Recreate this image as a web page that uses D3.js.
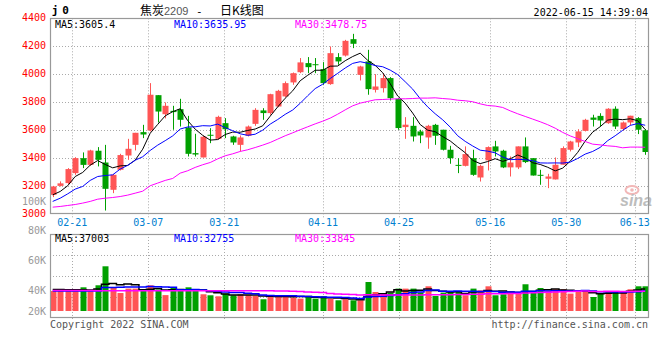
<!DOCTYPE html>
<html><head><meta charset="utf-8">
<script src="https://cdn.jsdelivr.net/npm/d3@7/dist/d3.min.js"></script>
<style>body{margin:0;background:#fff}svg{display:block}</style>
</head><body><svg id="c" width="660" height="360"></svg>
<script>
const dates = ["02-16","02-17","02-18","02-21","02-22","02-23","02-24","02-25","02-28",
"03-01","03-02","03-03","03-04","03-07","03-08","03-09","03-10","03-11","03-14","03-15","03-16","03-17","03-18","03-21","03-22","03-23","03-24","03-25","03-28","03-29","03-30","03-31",
"04-01","04-06","04-07","04-08","04-11","04-12","04-13","04-14","04-15","04-18","04-19","04-20","04-21","04-22","04-25","04-26","04-27","04-28","04-29",
"05-05","05-06","05-09","05-10","05-11","05-12","05-13","05-16","05-17","05-18","05-19","05-20","05-23","05-24","05-25","05-26","05-27","05-30","05-31",
"06-01","06-02","06-06","06-07","06-08","06-09","06-10","06-13","06-14","06-15"];
const opens = [3139,3203,3223,3294,3401,3353,3454,3370,3175,3318,3420,3496,3587,3599,3851,3715,3739,3751,3620,3437,3406,3568,3539,3651,3556,3496,3561,3646,3742,3723,3770,3842,3942,4015,4080,4072,4037,3930,4123,4134,4251,3996,4092,3889,3901,3973,3825,3623,3632,3592,3549,3639,3604,3461,3353,3346,3401,3263,3385,3485,3454,3335,3335,3485,3401,3282,3254,3249,3354,3461,3513,3596,3691,3703,3651,3754,3609,3656,3687,3600];
const highs = [3203,3235,3330,3408,3442,3461,3480,3496,3287,3432,3539,3582,3639,3937,3851,3799,3775,3825,3703,3575,3561,3615,3704,3687,3561,3563,3634,3758,3758,3861,3889,3949,4013,4116,4123,4116,4087,4199,4151,4246,4289,4061,4175,4001,4008,3980,3830,3694,3694,3604,3639,3646,3604,3489,3401,3485,3461,3354,3485,3525,3461,3413,3485,3549,3401,3318,3289,3406,3485,3525,3608,3682,3711,3722,3758,3771,3663,3704,3694,3609];
const lows = [3123,3199,3215,3282,3330,3346,3342,3027,3151,3313,3389,3456,3544,3592,3656,3685,3604,3627,3413,3413,3406,3508,3532,3544,3496,3449,3556,3632,3675,3711,3765,3835,3925,4008,4008,4008,3925,3925,4068,4127,4187,3956,3854,3870,3870,3813,3604,3539,3520,3508,3468,3496,3456,3361,3294,3342,3275,3234,3313,3413,3330,3270,3323,3366,3277,3211,3187,3249,3354,3449,3480,3592,3627,3627,3646,3609,3599,3636,3573,3425];
const closes = [3199,3221,3323,3401,3353,3456,3389,3182,3282,3423,3468,3582,3570,3854,3734,3775,3730,3675,3432,3427,3554,3563,3696,3608,3513,3549,3627,3746,3723,3858,3882,3937,4008,4085,4051,4065,3937,4151,4092,4239,4218,4056,3894,3913,3973,3830,3616,3640,3556,3563,3632,3561,3461,3401,3349,3430,3282,3346,3480,3449,3335,3370,3485,3373,3277,3277,3270,3354,3473,3520,3592,3675,3675,3670,3754,3627,3656,3704,3604,3445];
const ma5 = [3139,3163,3204,3270,3299,3351,3384,3356,3332,3346,3349,3387,3465,3579,3642,3703,3733,3754,3669,3608,3564,3530,3534,3570,3587,3586,3599,3609,3632,3701,3767,3829,3882,3954,3993,4029,4029,4058,4059,4097,4127,4151,4100,4064,4011,3933,3845,3794,3723,3641,3601,3590,3555,3524,3481,3440,3385,3362,3377,3397,3378,3396,3424,3402,3368,3356,3336,3310,3330,3379,3442,3523,3587,3626,3673,3680,3676,3682,3669,3605];
const ma10 = [3092,3115,3146,3180,3199,3242,3270,3277,3282,3323,3350,3386,3411,3456,3494,3526,3560,3609,3624,3625,3633,3631,3644,3619,3597,3575,3564,3572,3601,3644,3677,3714,3745,3793,3847,3898,3929,3970,4007,4045,4078,4090,4079,4062,4054,4030,3998,3947,3894,3826,3767,3718,3675,3623,3561,3521,3488,3458,3451,3439,3409,3390,3393,3390,3383,3367,3366,3367,3366,3373,3399,3430,3449,3478,3526,3561,3600,3635,3648,3636];
const ma30 = [3051,3056,3063,3070,3080,3092,3108,3115,3120,3127,3137,3151,3165,3204,3223,3242,3256,3294,3311,3335,3354,3370,3396,3418,3432,3449,3461,3477,3494,3513,3537,3561,3582,3604,3625,3646,3665,3687,3715,3746,3775,3794,3806,3818,3820,3823,3825,3825,3827,3830,3830,3832,3827,3823,3815,3811,3804,3789,3777,3773,3763,3739,3718,3699,3680,3661,3640,3615,3585,3560,3540,3520,3501,3496,3489,3485,3475,3480,3480,3479];
const volumes = [33600,36000,34800,33600,39800,33100,43200,75100,39800,30200,37600,37600,33600,43200,36100,26700,39800,34100,39800,33600,28100,26400,24700,29200,26400,28100,26400,25200,19700,24700,26400,26400,22500,20800,24700,20800,24700,20800,18000,19700,18000,18000,48700,31900,29200,30900,37600,37600,37600,30900,41500,25200,30900,31900,31900,26400,37600,34800,41500,26400,28100,29200,29200,44900,31900,38600,33100,36500,36500,29200,31900,31900,23500,29200,33100,33100,33100,36500,41500,41500];
const volMa5 = [36000,36000,35500,35500,35560,35460,36900,44960,46200,44280,45180,44060,35760,36440,37620,35440,35880,35980,35300,34800,35080,32400,30520,28400,26960,26960,26960,27060,25160,24820,24480,24480,23940,24160,24160,23040,22700,22360,21800,20800,20240,18900,24480,27260,29160,31740,35660,33440,34580,34920,37040,34560,33220,32080,32280,29260,31740,32520,34440,33340,33680,32000,30880,31560,32660,34760,35540,37000,35320,34780,33440,33200,30600,29140,29920,30160,30400,33000,35460,37140];
const volMa10 = [33600,33600,33600,33600,33600,33600,33600,39300,39300,39920,40320,40480,40360,41320,40950,40310,39970,35870,35870,36210,35260,34140,33250,31850,30880,31020,29680,28790,26780,25890,25720,25720,25500,24660,24490,23760,23590,23150,22980,22480,21640,20800,23420,24530,24980,25990,27280,28960,30920,32040,34390,35110,33330,33330,33600,33150,33150,32870,33260,32810,31470,31870,31700,33000,33000,34220,33770,33940,33440,33720,34100,34370,33800,32230,32350,31800,31800,31800,32300,33530];
const volMa30 = [34500,34500,34500,34500,34500,34500,34000,34000,34000,34000,34000,34000,34000,34000,34000,34000,34000,34000,34000,34000,34000,34000,34000,34000,34000,34000,34000,34000,34000,34010,33770,33450,33040,32610,32110,31700,31080,29270,28540,28190,27540,26890,27390,27010,26780,26920,26850,26970,26890,26800,27250,27210,27420,27510,27690,27630,28010,28330,29050,29110,29170,29260,29480,30290,30530,31120,31400,31920,32540,32860,33320,33780,32940,32850,32980,33060,32910,32870,33000,33350];
const priceTicks = [3000,3200,3400,3600,3800,4000,4200,4400];
const volTicks = [20000,40000,60000,80000,100000];
const dateTicks = ["02-21","03-07","03-21","04-11","04-25","05-16","05-30","06-13"];
const priceMaLabels = ["MA5:3605.4","MA10:3635.95","MA30:3478.75"];
const volMaLabels = ["MA5:37003","MA10:32755","MA30:33845"];

const MONO = "'DejaVu Sans Mono', monospace";
const RED = "#ff5555", GREEN = "#00a000";
const maColors = ["#000000","#0000ff","#ff00ff"];
const svg = d3.select("#c");
svg.append("rect").attr("width",660).attr("height",360).attr("fill","#fff");

const L = 50, R = 649, PT = 18.3, PB = 214.3, VT = 234, VB = 318, VBASE = 311;
const n = dates.length;
const x = d3.scaleLinear().domain([0, n-1]).range([52.7, 645.2]);
const xg = d3.scaleLinear().domain([0, n-1]).range([49.5, 649.9]);
const y = d3.scaleLinear().domain([3000, 4400]).range([PB, PT]);
const yv = d3.scaleLinear().domain([0, 100000]).range([VBASE, VBASE - 100000/1680]);
const yvl = d3.scaleLinear().domain([20000, 40000, 100000]).range([311, 290, 201]);
const colorOf = i => closes[i] >= opens[i] ? RED : GREEN;

const defs = svg.append("defs");
defs.append("clipPath").attr("id","cp").append("rect").attr("x",L).attr("y",PT).attr("width",R-L).attr("height",PB-PT);
defs.append("clipPath").attr("id","cv").append("rect").attr("x",L).attr("y",VT).attr("width",R-L).attr("height",VB-VT);

// grid
const grid = svg.append("g").attr("stroke","#aaa").attr("stroke-dasharray","1,2").attr("fill","none");
priceTicks.filter(t => t > 3000 && t < 4400).forEach(t => {
  grid.append("line").attr("x1",L).attr("x2",R).attr("y1",Math.round(y(t))+0.5).attr("y2",Math.round(y(t))+0.5);
});
d3.range(1,4).forEach(k => {
  const yy = Math.round(VT + k*(VB-VT)/4) + 0.5;
  grid.append("line").attr("x1",L).attr("x2",R).attr("y1",yy).attr("y2",yy);
});
dateTicks.forEach(t => {
  const xx = Math.round(xg(dates.indexOf(t))) + 0.5;
  grid.append("line").attr("x1",xx).attr("x2",xx).attr("y1",PT).attr("y2",PB+3);
  grid.append("line").attr("x1",xx).attr("x2",xx).attr("y1",VT).attr("y2",VB+3);
});

// watermark
const wm = svg.append("g");
wm.append("ellipse").attr("cx",632).attr("cy",190).attr("rx",6.5).attr("ry",4).attr("fill","none").attr("stroke","#f2b8b8").attr("stroke-width",2);
wm.append("circle").attr("cx",632).attr("cy",190).attr("r",1.8).attr("fill","#f2b8b8");
wm.append("text").attr("x",620).attr("y",206).attr("font-family","'Liberation Sans', Arial, sans-serif")
  .attr("font-size",16).attr("font-weight","bold").attr("font-style","italic").attr("fill","#bdbdbd").text("sina");

// candles
const cg = svg.append("g").attr("clip-path","url(#cp)");
d3.range(n).forEach(i => {
  const px = Math.round(x(i));
  const col = colorOf(i);
  cg.append("line").attr("x1",px+0.5).attr("x2",px+0.5).attr("y1",y(highs[i])).attr("y2",y(lows[i])).attr("stroke",col).attr("stroke-width",1);
  const top = y(Math.max(opens[i], closes[i])), bot = y(Math.min(opens[i], closes[i]));
  cg.append("rect").attr("x",px-2.5).attr("y",top).attr("width",6).attr("height",Math.max(1, bot-top)).attr("fill",col);
});
const priceLine = d3.line().x((d,i) => x(i)).y(d => y(d));
[ma5, ma10, ma30].forEach((arr, k) => {
  cg.append("path").attr("d", priceLine(arr)).attr("fill","none").attr("stroke",maColors[k]).attr("stroke-width",1);
});

// volume
const vg = svg.append("g").attr("clip-path","url(#cv)");
d3.range(n).forEach(i => {
  const px = Math.round(x(i));
  vg.append("rect").attr("x",px-2.5).attr("y",yv(volumes[i])).attr("width",6).attr("height",VBASE - yv(volumes[i])).attr("fill",colorOf(i));
});
const volLine = d3.line().x((d,i) => x(i)).y(d => yv(d)).curve(d3.curveStep);
[volMa5, volMa10, volMa30].forEach((arr, k) => {
  vg.append("path").attr("d", volLine(arr)).attr("fill","none").attr("stroke",maColors[k]).attr("stroke-width",1.5);
});

// frames
[[PT,PB],[VT,VB]].forEach(([t,b]) => {
  svg.append("rect").attr("x",L+0.5).attr("y",Math.round(t)+0.5).attr("width",R-L-1).attr("height",Math.round(b-t)-1)
    .attr("fill","none").attr("stroke","#999").attr("stroke-width",1.2);
});

// axis labels
const lab = svg.append("g").attr("font-family",MONO).attr("font-size",10);
priceTicks.forEach(t => {
  lab.append("text").attr("x",46).attr("y",y(t)+2.5).attr("text-anchor","end").attr("fill","#ff0000").text(t);
});
volTicks.forEach(t => {
  lab.append("text").attr("x",46).attr("y",yvl(t)+3.5).attr("text-anchor","end").attr("fill","#999").text(d3.format("~s")(t).replace("k","K"));
});
dateTicks.forEach(t => {
  lab.append("text").attr("x",xg(dates.indexOf(t))).attr("y",225.5).attr("text-anchor","middle").attr("fill","#0080d0").text(t);
});
const maX = [55, 174, 295];
priceMaLabels.forEach((s,k) => lab.append("text").attr("x",maX[k]).attr("y",27.5).attr("fill",maColors[k]).text(s));
volMaLabels.forEach((s,k) => lab.append("text").attr("x",maX[k]).attr("y",242).attr("fill",maColors[k]).text(s));
lab.append("text").attr("x",648).attr("y",15.5).attr("text-anchor","end").attr("fill","#000").text("2022-06-15 14:39:04");
lab.append("text").attr("x",50).attr("y",327.5).attr("fill","#555").text("Copyright 2022 SINA.COM");
lab.append("text").attr("x",648).attr("y",327.5).attr("text-anchor","end").attr("fill","#555").text("http://finance.sina.com.cn");

// title
svg.append("text").attr("x",51.7).attr("y",14).attr("font-family",MONO).attr("font-size",11).attr("font-weight","bold")
  .attr("letter-spacing",4).attr("fill","#000").text("j0");
const tt = svg.append("text").attr("y",14.5).attr("fill","#000");
tt.append("tspan").attr("x",140).attr("font-family","'Noto Sans CJK SC', sans-serif").attr("font-size",12).text("焦炭");
tt.append("tspan").attr("x",164).attr("font-family","'Liberation Sans', Arial, sans-serif").attr("font-size",11).attr("fill","#555").text("2209");
tt.append("tspan").attr("x",196).attr("font-family",MONO).attr("font-size",11).text("-");
tt.append("tspan").attr("x",220).attr("font-family","'Noto Sans CJK SC', sans-serif").attr("font-size",12).text("日K线图");
</script></body></html>
